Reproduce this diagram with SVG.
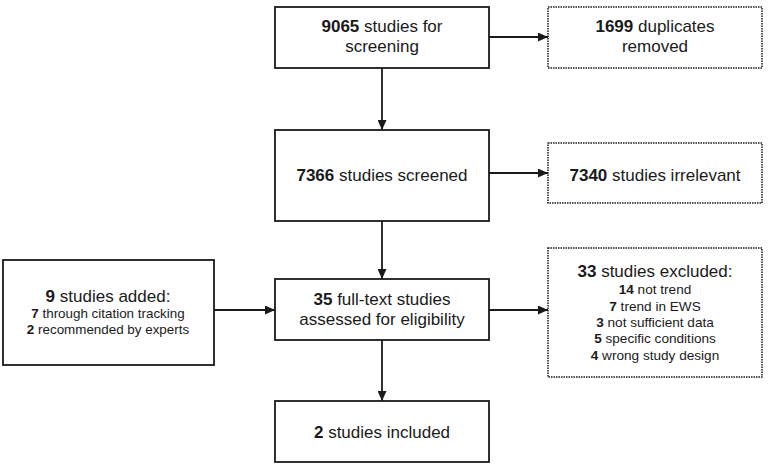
<svg xmlns="http://www.w3.org/2000/svg" width="768" height="467" viewBox="0 0 768 467">
<defs>
<marker id="ah" markerWidth="10" markerHeight="9" refX="10" refY="4.5" orient="auto" markerUnits="userSpaceOnUse">
<path d="M0,0 L10,4.5 L0,9 Z" fill="#1a1a1a"/>
</marker>
<style>
.box{fill:#fff;stroke:#1a1a1a;stroke-width:1.8}
.dot{fill:#fff;stroke:#1a1a1a;stroke-width:1.5;stroke-dasharray:1.5 1}
.t{font-family:"Liberation Sans",Arial,sans-serif;font-size:17px;fill:#1a1a1a;text-anchor:middle}
.s{font-size:13.4px}
.r{font-size:13.6px}
.b{font-weight:bold}
.c{fill:none;stroke:#1a1a1a;stroke-width:1.8}
</style>
</defs>
<rect width="768" height="467" fill="#fff"/>
<g id="connectors">
<line class="c" x1="489" y1="37" x2="548" y2="37" marker-end="url(#ah)"/>
<line class="c" x1="382" y1="68" x2="382" y2="130" marker-end="url(#ah)"/>
<line class="c" x1="489" y1="173" x2="548" y2="173" marker-end="url(#ah)"/>
<line class="c" x1="382" y1="221" x2="382" y2="279" marker-end="url(#ah)"/>
<line class="c" x1="214" y1="310" x2="275" y2="310" marker-end="url(#ah)"/>
<line class="c" x1="489" y1="310" x2="548" y2="310" marker-end="url(#ah)"/>
<line class="c" x1="382" y1="340" x2="382" y2="401" marker-end="url(#ah)"/>
</g>
<g id="n1">
<rect class="box" x="275" y="7" width="214" height="61"/>
<text class="t" x="382" y="32"><tspan class="b">9065</tspan> studies for</text>
<text class="t" x="382" y="52">screening</text>
</g>
<g id="n2">
<rect class="dot" x="548" y="7" width="214" height="61"/>
<text class="t" x="655" y="32"><tspan class="b">1699</tspan> duplicates</text>
<text class="t" x="655" y="52">removed</text>
</g>
<g id="n3">
<rect class="box" x="275" y="130" width="214" height="91"/>
<text class="t" x="382" y="181"><tspan class="b">7366</tspan> studies screened</text>
</g>
<g id="n4">
<rect class="dot" x="548" y="143" width="214" height="60"/>
<text class="t" x="655" y="181"><tspan class="b">7340</tspan> studies irrelevant</text>
</g>
<g id="n5">
<rect class="box" x="3" y="260" width="211" height="105"/>
<text class="t" x="108" y="302"><tspan class="b">9</tspan> studies added:</text>
<text class="t s" x="108" y="318"><tspan class="b">7</tspan> through  citation tracking</text>
<text class="t s" x="108" y="334"><tspan class="b">2</tspan> recommended by experts</text>
</g>
<g id="n6">
<rect class="box" x="275" y="279" width="214" height="61"/>
<text class="t" x="382" y="305"><tspan class="b">35</tspan> full-text studies</text>
<text class="t" x="382" y="325">assessed for eligibility</text>
</g>
<g id="n7">
<rect class="dot" x="548" y="248" width="214" height="129"/>
<text class="t" x="655" y="277"><tspan class="b">33</tspan> studies excluded:</text>
<text class="t r" x="655" y="294"><tspan class="b">14</tspan> not trend</text>
<text class="t r" x="655" y="311"><tspan class="b">7</tspan> trend in EWS</text>
<text class="t r" x="655" y="327"><tspan class="b">3</tspan> not sufficient data</text>
<text class="t r" x="655" y="343"><tspan class="b">5</tspan> specific conditions</text>
<text class="t r" x="655" y="360"><tspan class="b">4</tspan> wrong study design</text>
</g>
<g id="n8">
<rect class="box" x="275" y="401" width="214" height="61"/>
<text class="t" x="382" y="438"><tspan class="b">2</tspan> studies included</text>
</g>
</svg>
